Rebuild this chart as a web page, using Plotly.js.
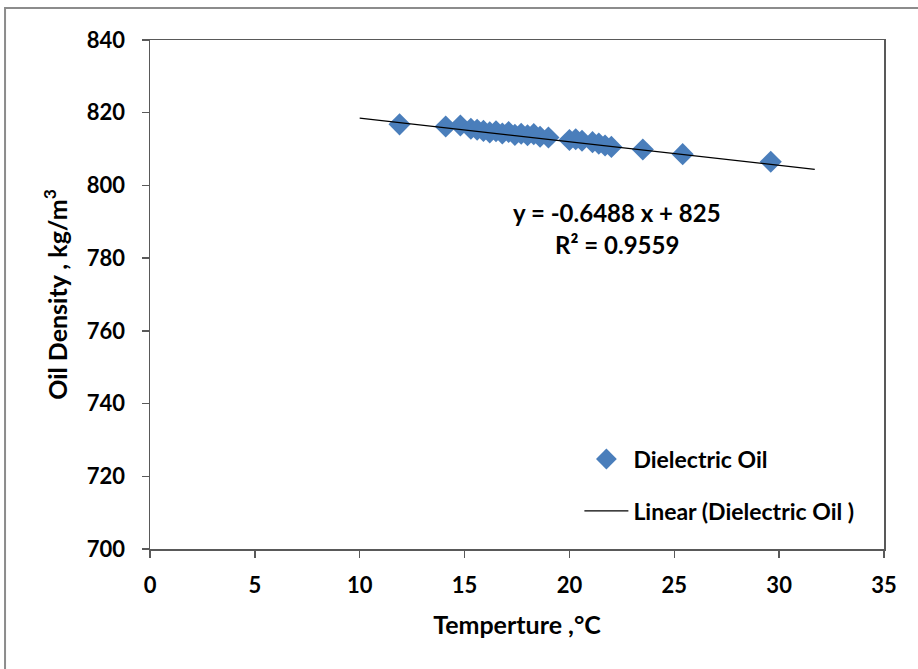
<!DOCTYPE html>
<html>
<head>
<meta charset="utf-8">
<script src="https://cdn.plot.ly/plotly-3.0.1.min.js"></script>
<style>html,body{margin:0;padding:0;background:#fff;}#chart{width:918px;height:669px;}</style>
</head>
<body>
<div id="chart"></div>
<script>
// Data
const temperature = [11.9, 14.1, 14.8, 15.3, 15.6, 15.9, 16.2, 16.5, 16.8, 17.1, 17.4, 17.7, 18.0, 18.3, 18.6, 19.0, 20.0, 20.3, 20.6, 21.1, 21.4, 21.7, 22.0, 23.5, 25.4, 29.6];
const density     = [816.8, 816.2, 816.5, 815.6, 815.3, 815.0, 814.6, 814.9, 814.3, 814.7, 813.9, 814.2, 813.8, 814.1, 813.4, 813.2, 812.5, 812.7, 812.3, 811.9, 811.5, 811.0, 810.6, 809.9, 808.6, 806.5];
// Linear trendline (as printed on the chart)
const slope = -0.6488;
const intercept = 825;
const trendX = [10, 31.7];
const trendY = trendX.map(x => slope * x + intercept);
const xTicks = [0, 5, 10, 15, 20, 25, 30, 35];
const yTicks = [700, 720, 740, 760, 780, 800, 820, 840];

const FONT = 'Lato, "Open Sans", sans-serif';

const traces = [
  {
    x: temperature, y: density, type: 'scatter', mode: 'markers',
    name: '<b>Dielectric Oil</b>', legendgroup: 'a',
    marker: {symbol: 'diamond', size: 17, color: '#4a7ebb'}
  },
  {
    x: trendX, y: trendY, type: 'scatter', mode: 'lines',
    name: '<b>Linear (Dielectric Oil )</b>', legendgroup: 'b',
    line: {color: '#000000', width: 1.2}
  }
];

const axisCommon = {
  showgrid: false, zeroline: false, showline: true, linecolor: '#595959', linewidth: 1.5,
  mirror: true, ticks: 'outside', ticklen: 7, tickcolor: '#595959', tickwidth: 1.3,
  tickfont: {family: FONT, size: 22, color: '#000'}
};

const layout = {
  width: 918, height: 669,
  margin: {l: 150, r: 34, t: 40, b: 120},
  paper_bgcolor: '#fff', plot_bgcolor: '#fff',
  font: {family: FONT, color: '#000'},
  xaxis: Object.assign({}, axisCommon, {
    range: [0, 35], tickvals: xTicks, ticktext: xTicks.map(v => '<b>' + v + '</b>'),
    ticklabelstandoff: 9,
    title: {text: '<b>Temperture ,°C</b>', font: {family: FONT, size: 25, color: '#000'}, standoff: 19}
  }),
  yaxis: Object.assign({}, axisCommon, {
    range: [700, 840], tickvals: yTicks, ticktext: yTicks.map(v => '<b>' + v + '</b>'),
    ticklabelstandoff: 12,
    title: {text: '<b>Oil Density , kg/m<sup>3</sup></b>', font: {family: FONT, size: 25, color: '#000'}, standoff: 12}
  }),
  showlegend: true,
  legend: {
    x: 0.585, y: 0.219, xanchor: 'left', yanchor: 'top',
    font: {family: FONT, size: 23, color: '#000'},
    bgcolor: 'rgba(0,0,0,0)', tracegroupgap: 19, traceorder: 'grouped', itemwidth: 44
  },
  annotations: [
    {xref: 'paper', yref: 'paper', x: 0.636, y: 0.662, xanchor: 'center', yanchor: 'middle', showarrow: false,
     text: '<b>y = -0.6488 x + 825</b>', font: {family: FONT, size: 24, color: '#000'}},
    {xref: 'paper', yref: 'paper', x: 0.636, y: 0.599, xanchor: 'center', yanchor: 'middle', showarrow: false,
     text: '<b>R² = 0.9559</b>', font: {family: FONT, size: 24, color: '#000'}}
  ],
  shapes: [
    {type: 'rect', xref: 'paper', yref: 'paper', x0: -0.1975, x1: 1.06, y0: -0.25, y1: 1.063,
     line: {color: '#8c8c8c', width: 2}, fillcolor: 'rgba(0,0,0,0)', layer: 'below'}
  ]
};

Plotly.newPlot('chart', traces, layout, {displayModeBar: false, staticPlot: true});
</script>
</body>
</html>
